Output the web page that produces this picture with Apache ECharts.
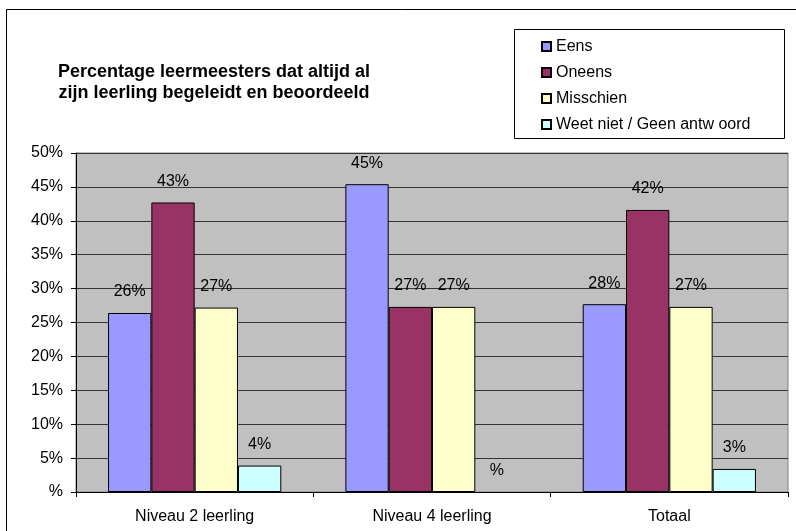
<!DOCTYPE html>
<html>
<head>
<meta charset="utf-8">
<script src="https://cdn.jsdelivr.net/npm/echarts@6/dist/echarts.min.js"></script>
<style>
    body { margin: 0; background: #fff; }
    #chart { width: 796px; height: 531px; }
</style>
</head>
<body>
<div id="chart"></div>
<script>

// data
const categories = ['Niveau 2 leerling', 'Niveau 4 leerling', 'Totaal'];
const seriesNames = ['Eens', 'Oneens', 'Misschien', 'Weet niet / Geen antw oord'];
const eens = [26.4, 45.4, 27.7];
const oneens = [42.7, 27.3, 41.6];
const misschien = [27.2, 27.3, 27.3];
const weetNiet = [3.9, 0, 3.4];
const yTicks = [0, 5, 10, 15, 20, 25, 30, 35, 40, 45, 50];

const colors = ['#9999FF', '#993366', '#FFFFCC', '#CCFFFF'];
const font = 'Arial, "Liberation Sans", sans-serif';

function pct(v) {
    return v === 0 ? '%' : Math.round(v) + '%';
}

function makeSeries(name, data, color) {
    return {
        name,
        type: 'bar',
        // a zero bar has no visible outline in the original
        data: data.map(v => v === 0 ? { value: v, itemStyle: { borderWidth: 0 } } : v),
        barGap: '0%',
        barCategoryGap: '27%',
        itemStyle: { color, borderColor: '#000', borderWidth: 1 },
        label: {
            show: true,
            position: 'top',
            distance: 13,
            fontFamily: font,
            fontSize: 16,
            color: '#000',
            formatter: p => pct(p.value),
        },
        emphasis: { disabled: true },
    };
}

const chart = echarts.init(document.getElementById('chart'));

const option = {
    animation: false,
    title: {
        text: 'Percentage leermeesters dat altijd al\nzijn leerling begeleidt en beoordeeld',
        left: 209,
        top: 57,
        textAlign: 'center',
        textStyle: {
            fontFamily: font,
            fontSize: 18,
            fontWeight: 'bold',
            color: '#000',
            lineHeight: 21,
        },
    },
    legend: {
        orient: 'vertical',
        left: 536,
        top: 33,
        itemWidth: 9,
        itemHeight: 9,
        itemGap: 9,
        icon: 'rect',
        data: seriesNames,
        textStyle: { fontFamily: font, fontSize: 16, color: '#000', lineHeight: 17 },
    },
    grid: {
        left: 76,
        top: 153,
        right: 8,
        bottom: 39,
        show: true,
        backgroundColor: '#C0C0C0',
        borderColor: '#808080',
        borderWidth: 1,
    },
    xAxis: {
        type: 'category',
        data: categories,
        axisLine: { lineStyle: { color: '#000' } },
        axisTick: { show: true, length: 5, lineStyle: { color: '#000' } },
        axisLabel: { fontFamily: font, fontSize: 16, color: '#000', margin: 17 },
    },
    yAxis: {
        type: 'value',
        min: yTicks[0],
        max: yTicks[yTicks.length - 1],
        interval: yTicks[1] - yTicks[0],
        axisLine: { show: true, lineStyle: { color: '#000' } },
        axisTick: { show: true, length: 5, lineStyle: { color: '#000' } },
        axisLabel: { fontFamily: font, fontSize: 16, color: '#000', margin: 13, formatter: v => pct(v) },
        splitLine: { lineStyle: { color: '#333', width: 1 } },
    },
    graphic: [
        // outer chart border
        {
            type: 'rect',
            shape: { x: 6.5, y: 9.5, width: 795, height: 540 },
            style: { fill: 'none', stroke: '#000', lineWidth: 1 },
            silent: true,
        },
        // legend box
        {
            type: 'rect',
            shape: { x: 514.5, y: 29.5, width: 270, height: 109 },
            style: { fill: '#fff', stroke: '#000', lineWidth: 1 },
            z: -1,
            silent: true,
        },
    ],
    series: [
        makeSeries(seriesNames[0], eens, colors[0]),
        makeSeries(seriesNames[1], oneens, colors[1]),
        makeSeries(seriesNames[2], misschien, colors[2]),
        makeSeries(seriesNames[3], weetNiet, colors[3]),
    ],
};

chart.setOption(option);

</script>
</body>
</html>
